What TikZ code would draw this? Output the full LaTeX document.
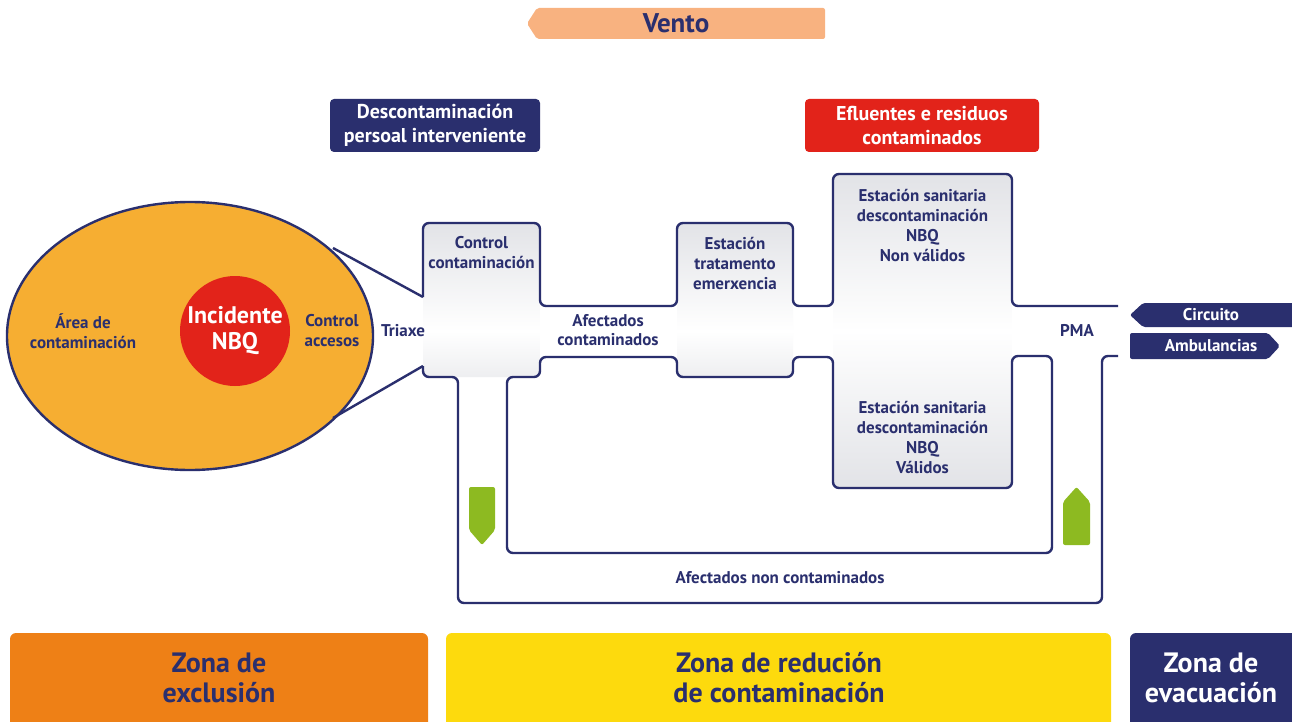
\documentclass[tikz,border=0pt]{standalone}
\usepackage{fontspec}
\setmainfont{PT Sans}
\usetikzlibrary{shapes.geometric}
\definecolor{navy}{RGB}{42,47,110}
\definecolor{peach}{RGB}{248,178,128}
\definecolor{nbqred}{RGB}{226,35,26}
\definecolor{ellorange}{RGB}{246,174,50}
\definecolor{zoneorange}{RGB}{238,128,22}
\definecolor{zoneyellow}{RGB}{253,218,13}
\definecolor{arrgreen}{RGB}{141,186,33}
\definecolor{boxgray}{RGB}{226,227,231}
\tikzset{
  outline/.style={draw=navy, line width=2.4pt, rounded corners=6pt},
  lbl/.style={font=\bfseries\fontsize{17}{20}\selectfont, text=navy, align=center, inner sep=0pt},
  hdr/.style={font=\bfseries\fontsize{20}{24}\selectfont, text=white, align=center, inner sep=0pt},
  zone/.style={font=\bfseries\fontsize{28}{30}\selectfont, align=center, inner sep=0pt},
  tag/.style={font=\bfseries\fontsize{17}{18}\selectfont, text=white, inner sep=0pt},
}
\begin{document}
\begin{tikzpicture}[x=1pt,y=-1pt]
\clip (0,0) rectangle (1292,722);
\fill[white] (0,0) rectangle (1292,722);

% Vento
\fill[peach, rounded corners=2pt] (537,8) -- (825,8) -- (825,39) -- (537,39) -- (527,23.5) -- cycle;
\node[font=\bfseries\fontsize{27}{28}\selectfont, text=navy, inner sep=0pt] (vento) at (676,23.5) {Vento};

% header boxes
\fill[navy, rounded corners=4pt] (330,99) rectangle (540,152);
\node[hdr] (desc) at (435,125.5) {Descontaminación\\persoal interveniente};
\fill[nbqred, rounded corners=4pt] (805,99) rectangle (1039,152);
\node[hdr] (eflu) at (922,125.5) {Efluentes e residuos\\contaminados};

% box shadings
\begin{scope}
\clip[rounded corners=6pt] (423,223) rectangle (540,377);
\shade[top color=boxgray, bottom color=white] (423,223) rectangle (540,331);
\shade[top color=white, bottom color=boxgray!60] (423,331) rectangle (540,377);
\end{scope}
\begin{scope}
\clip[rounded corners=6pt] (677,223) rectangle (793,377);
\shade[top color=boxgray, bottom color=white] (677,223) rectangle (793,331);
\shade[top color=white, bottom color=boxgray!60] (677,331) rectangle (793,377);
\end{scope}
\begin{scope}
\clip[rounded corners=6pt] (833,174) rectangle (1012,488);
\shade[top color=boxgray, bottom color=white] (833,174) rectangle (1012,331);
\shade[top color=white, bottom color=boxgray] (833,331) rectangle (1012,488);
\end{scope}

% ellipse and incident
\node[ellipse, draw=navy, line width=2.4pt, fill=ellorange, minimum width=366pt, minimum height=268pt, inner sep=0pt] (area) at (190,336) {};
\node[circle, fill=nbqred, minimum size=110pt, inner sep=0pt] (inc) at (235,331) {};
\node[font=\bfseries\fontsize{24}{26}\selectfont, text=white, align=center, inner sep=0pt] (inctxt) at (235,331) {Incidente\\NBQ};
\node[lbl] (areatxt) at (83,331) {Área de\\contaminación};
\node[lbl] (accesos) at (332,331) {Control\\accesos};
\node[lbl] (triaxe) at (403,331) {Triaxe};

% wedge lines
\coordinate (wu) at (333,248);
\coordinate (wl) at (333,418);
\draw[navy, line width=2.4pt] (wu) -- (423,297);
\draw[navy, line width=2.4pt] (wl) -- (423,366);

% upper outline
\draw[outline] (423,297) -- (423,223) -- (540,223) -- (540,306) -- (677,306) -- (677,223) -- (793,223) -- (793,306) -- (833,306) -- (833,174) -- (1012,174) -- (1012,306) -- (1118,306);
% outer loop
\draw[outline] (423,366) -- (423,377) -- (458,377) -- (458,603) -- (1102,603) -- (1102,356) -- (1118,356);
% inner loop
\draw[outline] (507,377) -- (540,377) -- (540,357) -- (677,357) -- (677,377) -- (793,377) -- (793,357) -- (833,357) -- (833,488) -- (1012,488) -- (1012,356) -- (1052,356) -- (1052,553) -- (507,553) -- cycle;

% labels in boxes
\node[lbl] (ctrl) at (481.5,253) {Control\\contaminación};
\node[lbl] (trat) at (735,263) {Estación\\tratamento\\emerxencia};
\node[lbl] (san1) at (922.5,225) {Estación sanitaria\\descontaminación\\NBQ\\Non válidos};
\node[lbl] (san2) at (922.5,437) {Estación sanitaria\\descontaminación\\NBQ\\Válidos};
\node[lbl, font=\bfseries\fontsize{17}{19}\selectfont] (afc) at (608,330.5) {Afectados\\contaminados};
\node[lbl] (pma) at (1077,330) {PMA};
\node[lbl] (afnc) at (780,578) {Afectados non contaminados};

% green arrows
\fill[arrgreen, rounded corners=2pt] (469,487) -- (495,487) -- (495,530) -- (482,545) -- (469,530) -- cycle;
\fill[arrgreen, rounded corners=2pt] (1063,545) -- (1090,545) -- (1090,502) -- (1076.5,487) -- (1063,502) -- cycle;

% circuito / ambulancias
\fill[navy, rounded corners=2pt] (1130,315) -- (1143,303) -- (1300,303) -- (1300,327) -- (1143,327) -- cycle;
\node[tag] (circ) at (1211,315) {Circuito};
\fill[navy, rounded corners=2pt] (1130,333) -- (1268,333) -- (1280,346) -- (1268,359) -- (1130,359) -- cycle;
\node[tag] (amb) at (1211,346) {Ambulancias};

% zones
\fill[zoneorange, rounded corners=6pt] (10,740) -- (10,633) -- (428,633) -- (428,740) -- cycle;
\node[zone, text=navy] (z1) at (219,678) {Zona de\\exclusión};
\fill[zoneyellow, rounded corners=6pt] (446,740) -- (446,633) -- (1111,633) -- (1111,740) -- cycle;
\node[zone, text=navy] (z2) at (779,678) {Zona de redución\\de contaminación};
\fill[navy, rounded corners=6pt] (1130,740) -- (1130,633) -- (1300,633) -- (1300,740) -- cycle;
\node[zone, text=white] (z3) at (1211,678) {Zona de\\evacuación};
\end{tikzpicture}
\end{document}
